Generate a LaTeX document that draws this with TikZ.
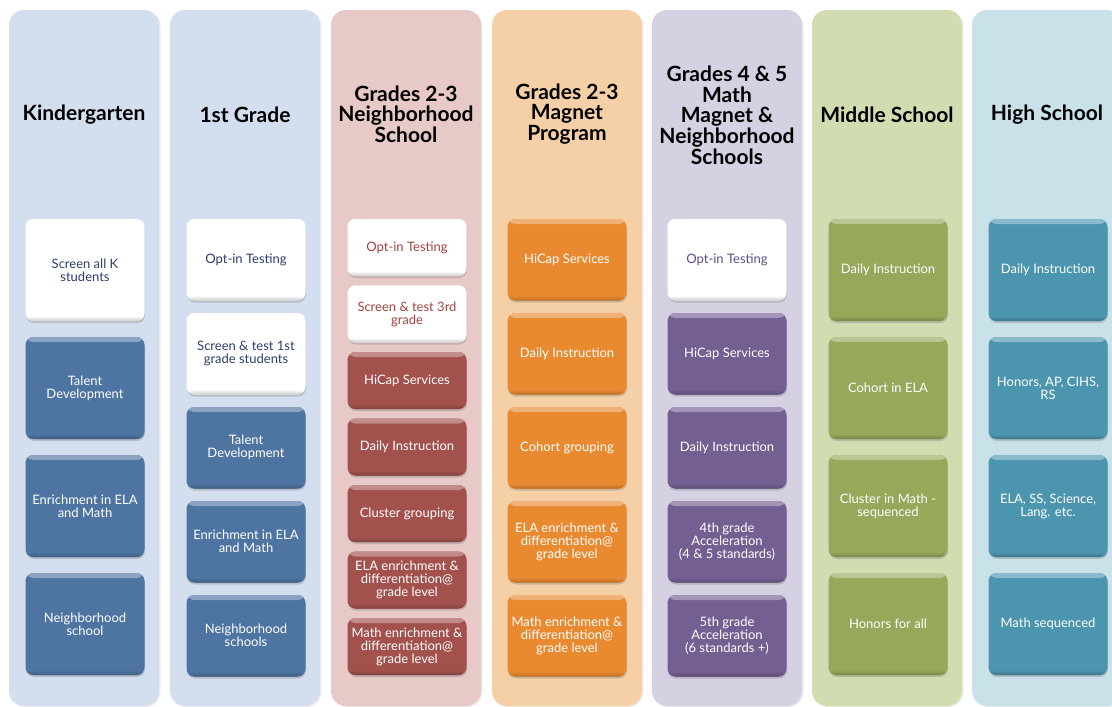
\documentclass[tikz,border=0pt]{standalone}
\usepackage{fontspec}
\setmainfont{Lato}
\usetikzlibrary{shadows}

% column backgrounds
\definecolor{kbg}{HTML}{D3DFEF}
\definecolor{rbg}{HTML}{E7C9C7}
\definecolor{obg}{HTML}{F5D0A7}
\definecolor{pbg}{HTML}{D6D0E3}
\definecolor{gbg}{HTML}{D2DCB1}
\definecolor{tbg}{HTML}{C9E2EA}
% tile fills
\definecolor{kbox}{HTML}{4E74A2}
\definecolor{rbox}{HTML}{A2514D}
\definecolor{obox}{HTML}{E98A31}
\definecolor{pbox}{HTML}{745F92}
\definecolor{gbox}{HTML}{96A85A}
\definecolor{tbox}{HTML}{4C95AF}
% text on white tiles
\definecolor{ktxt}{HTML}{2C3E6E}
\definecolor{rtxt}{HTML}{A3443F}
\definecolor{ptxt}{HTML}{5E4E8A}

\tikzset{
  lane/.style={fill=#1, rounded corners=15pt,
    drop shadow={shadow xshift=1.5pt, shadow yshift=-1pt, opacity=0.15}},
  heading/.style={font=\fontsize{21}{20.7}\selectfont\bfseries, align=center, text=black},
  tile/.style={rounded corners=8pt, minimum width=119pt, align=center, inner sep=2pt,
    font=\fontsize{13}{13}\selectfont, text=white, fill=#1,
    drop shadow={shadow xshift=0.5pt, shadow yshift=-2pt, opacity=0.35},
    path picture={
      \shade[top color=#1!65!white, bottom color=#1]
        (path picture bounding box.north west) rectangle ([yshift=-5pt]path picture bounding box.north east);
      \shade[top color=#1, bottom color=#1!80!black]
        ([yshift=5pt]path picture bounding box.south west) rectangle (path picture bounding box.south east);
    }},
  tall/.style={minimum height=102pt},
  mid/.style={minimum height=81.5pt},
  short/.style={minimum height=57pt},
  paper/.style={tile=white, text=#1},
}

\begin{document}
\begin{tikzpicture}[x=1pt,y=-1pt]
\useasboundingbox (0,0) rectangle (1112,707);
\clip (0,0) rectangle (1112,707);

% lanes
\path[lane=kbg] (9,10) rectangle (159,706);
\path[lane=kbg] (170,10) rectangle (320,706);
\path[lane=rbg] (331,10) rectangle (481,706);
\path[lane=obg] (492,10) rectangle (642,706);
\path[lane=pbg] (652,10) rectangle (802,706);
\path[lane=gbg] (812,10) rectangle (962,706);
\path[lane=tbg] (972,10) rectangle (1122,706);

% headings
\node[heading] (h1) at (84,115) {Kindergarten};
\node[heading] (h2) at (245,115) {1st Grade};
\node[heading] (h3) at (406,114) {Grades 2-3\\Neighborhood\\School};
\node[heading] (h4) at (567,114) {Grades 2-3\\Magnet\\Program};
\node[heading] (h5) at (727,115) {Grades 4 \& 5\\Math\\Magnet \&\\Neighborhood\\Schools};
\node[heading] (h6) at (887,115) {Middle School};
\node[heading] (h7) at (1047,115) {High School};

% Kindergarten
\node[paper=ktxt, tall] (k1) at (85,270) {Screen all K\\students};
\node[tile=kbox, tall] (k2) at (85,388) {Talent\\Development};
\node[tile=kbox, tall] (k3) at (85,506) {Enrichment in ELA\\and Math};
\node[tile=kbox, tall] (k4) at (85,624) {Neighborhood\\school};

% 1st grade
\node[paper=ktxt, mid] (f1) at (246,259.75) {Opt-in Testing};
\node[paper=ktxt, mid] (f2) at (246,353.75) {Screen \& test 1st\\grade students};
\node[tile=kbox, mid] (f3) at (246,447.75) {Talent\\Development};
\node[tile=kbox, mid] (f4) at (246,541.75) {Enrichment in ELA\\and Math};
\node[tile=kbox, mid] (f5) at (246,635.75) {Neighborhood\\schools};

% Grades 2-3 neighborhood school
\node[paper=rtxt, short] (n1) at (407,247.5) {Opt-in Testing};
\node[paper=rtxt, short] (n2) at (407,314) {Screen \& test 3rd\\grade};
\node[tile=rbox, short] (n3) at (407,380.5) {HiCap Services};
\node[tile=rbox, short] (n4) at (407,447) {Daily Instruction};
\node[tile=rbox, short] (n5) at (407,513.5) {Cluster grouping};
\node[tile=rbox, short] (n6) at (407,580) {ELA enrichment \&\\differentiation@\\grade level};
\node[tile=rbox, short] (n7) at (407,646.5) {Math enrichment \&\\differentiation@\\grade level};

% Grades 2-3 magnet program
\node[tile=obox, mid] (m1) at (567,259.75) {HiCap Services};
\node[tile=obox, mid] (m2) at (567,353.75) {Daily Instruction};
\node[tile=obox, mid] (m3) at (567,447.75) {Cohort grouping};
\node[tile=obox, mid] (m4) at (567,541.75) {ELA enrichment \&\\differentiation@\\grade level};
\node[tile=obox, mid] (m5) at (567,635.75) {Math enrichment \&\\differentiation@\\grade level};

% Grades 4 & 5
\node[paper=ptxt, mid] (p1) at (727,259.75) {Opt-in Testing};
\node[tile=pbox, mid] (p2) at (727,353.75) {HiCap Services};
\node[tile=pbox, mid] (p3) at (727,447.75) {Daily Instruction};
\node[tile=pbox, mid] (p4) at (727,541.75) {4th grade\\Acceleration\\(4 \& 5 standards)};
\node[tile=pbox, mid] (p5) at (727,635.75) {5th grade\\Acceleration\\(6 standards +)};

% Middle school
\node[tile=gbox, tall] (s1) at (888,270) {Daily Instruction};
\node[tile=gbox, tall] (s2) at (888,388) {Cohort in ELA};
\node[tile=gbox, tall] (s3) at (888,506) {Cluster in Math -\\sequenced};
\node[tile=gbox, tall] (s4) at (888,624) {Honors for all};

% High school
\node[tile=tbox, tall] (t1) at (1048,270) {Daily Instruction};
\node[tile=tbox, tall] (t2) at (1048,388) {Honors, AP, CIHS,\\RS};
\node[tile=tbox, tall] (t3) at (1048,506) {ELA, SS, Science,\\Lang. etc.};
\node[tile=tbox, tall] (t4) at (1048,624) {Math sequenced};
\end{tikzpicture}
\end{document}
